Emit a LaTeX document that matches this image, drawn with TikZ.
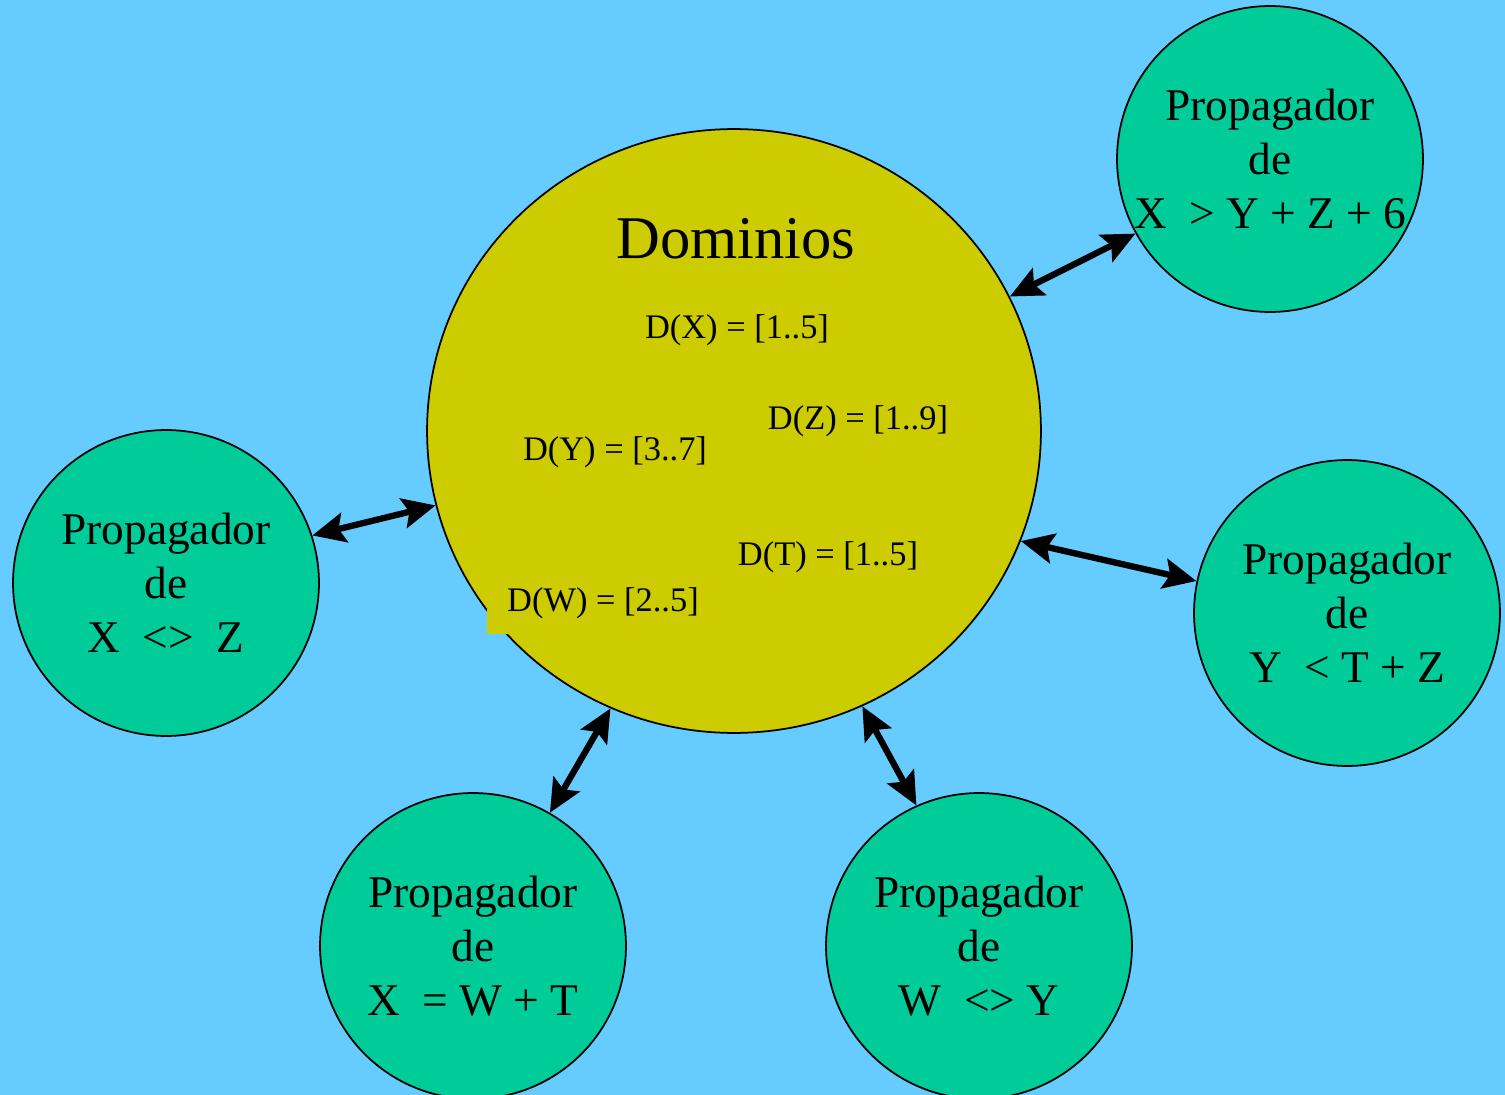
\documentclass[tikz,border=0pt]{standalone}
\usepackage{fontspec}
\setmainfont{Liberation Serif}
\usetikzlibrary{arrows.meta,shapes.geometric}
\definecolor{sky}{HTML}{66CCFF}
\definecolor{domfill}{HTML}{CCCC00}
\definecolor{propfill}{HTML}{00CC99}
\tikzset{
  prop/.style={circle,minimum size=6.12cm,inner sep=0pt,draw=black,line width=1pt,
               fill=propfill,align=center,font=\fontsize{25.8}{30.8}\selectfont},
  dom/.style={ellipse,minimum width=12.28cm,minimum height=12.08cm,inner sep=0pt,
              draw=black,line width=1pt,fill=domfill},
  rng/.style={inner sep=0pt,font=\fontsize{19.6}{23}\selectfont},
  link/.style={{Stealth[length=0.66cm,width=0.6cm,inset=0.12cm]}-{Stealth[length=0.66cm,width=0.6cm,inset=0.12cm]},
               line width=3.6pt},
}

\begin{document}
\begin{tikzpicture}[x=0.02cm,y=-0.02cm]
  \fill[sky] (0,0) rectangle (1505,1095);
  \useasboundingbox (0,0) rectangle (1505,1095);

  % domain store
  \node[dom] (dom) at (734,431) {};
  \node[inner sep=0pt,font=\fontsize{34.5}{40}\selectfont] (title) at (736,239) {Dominios};
  \node[rng] (dx) at (737,330) {D(X) = [1..5]};
  \node[rng] (dz) at (858,421) {D(Z) = [1..9]};
  \node[rng] (dy) at (615,452) {D(Y) = [3..7]};
  \node[rng] (dt) at (828,557) {D(T) = [1..5]};
  \node[rng,fill=domfill,inner xsep=0.4cm,inner ysep=0.3cm] (dw) at (603,603) {D(W) = [2..5]};

  % propagators
  \node[prop] (p1) at (1270,159) {Propagador\\de\\X \ > Y + Z + 6};
  \node[prop] (p2) at (166,583) {Propagador\\de\\X \ <> \ Z};
  \node[prop] (p3) at (1347,613) {Propagador\\de\\Y \ < T + Z};
  \node[prop] (p4) at (473,946) {Propagador\\de\\X \ = W + T};
  \node[prop] (p5) at (979,946) {Propagador\\de\\W \ <> Y};

  \draw[link] (dom.26) -- (p1.209);
  \draw[link] (dom.194) -- (p2.18);
  \draw[link] (dom.-21) -- (p3.168);
  \draw[link] (dom.246) -- (p4.60);
  \draw[link] (dom.-65) -- (p5.114);
\end{tikzpicture}
\end{document}
